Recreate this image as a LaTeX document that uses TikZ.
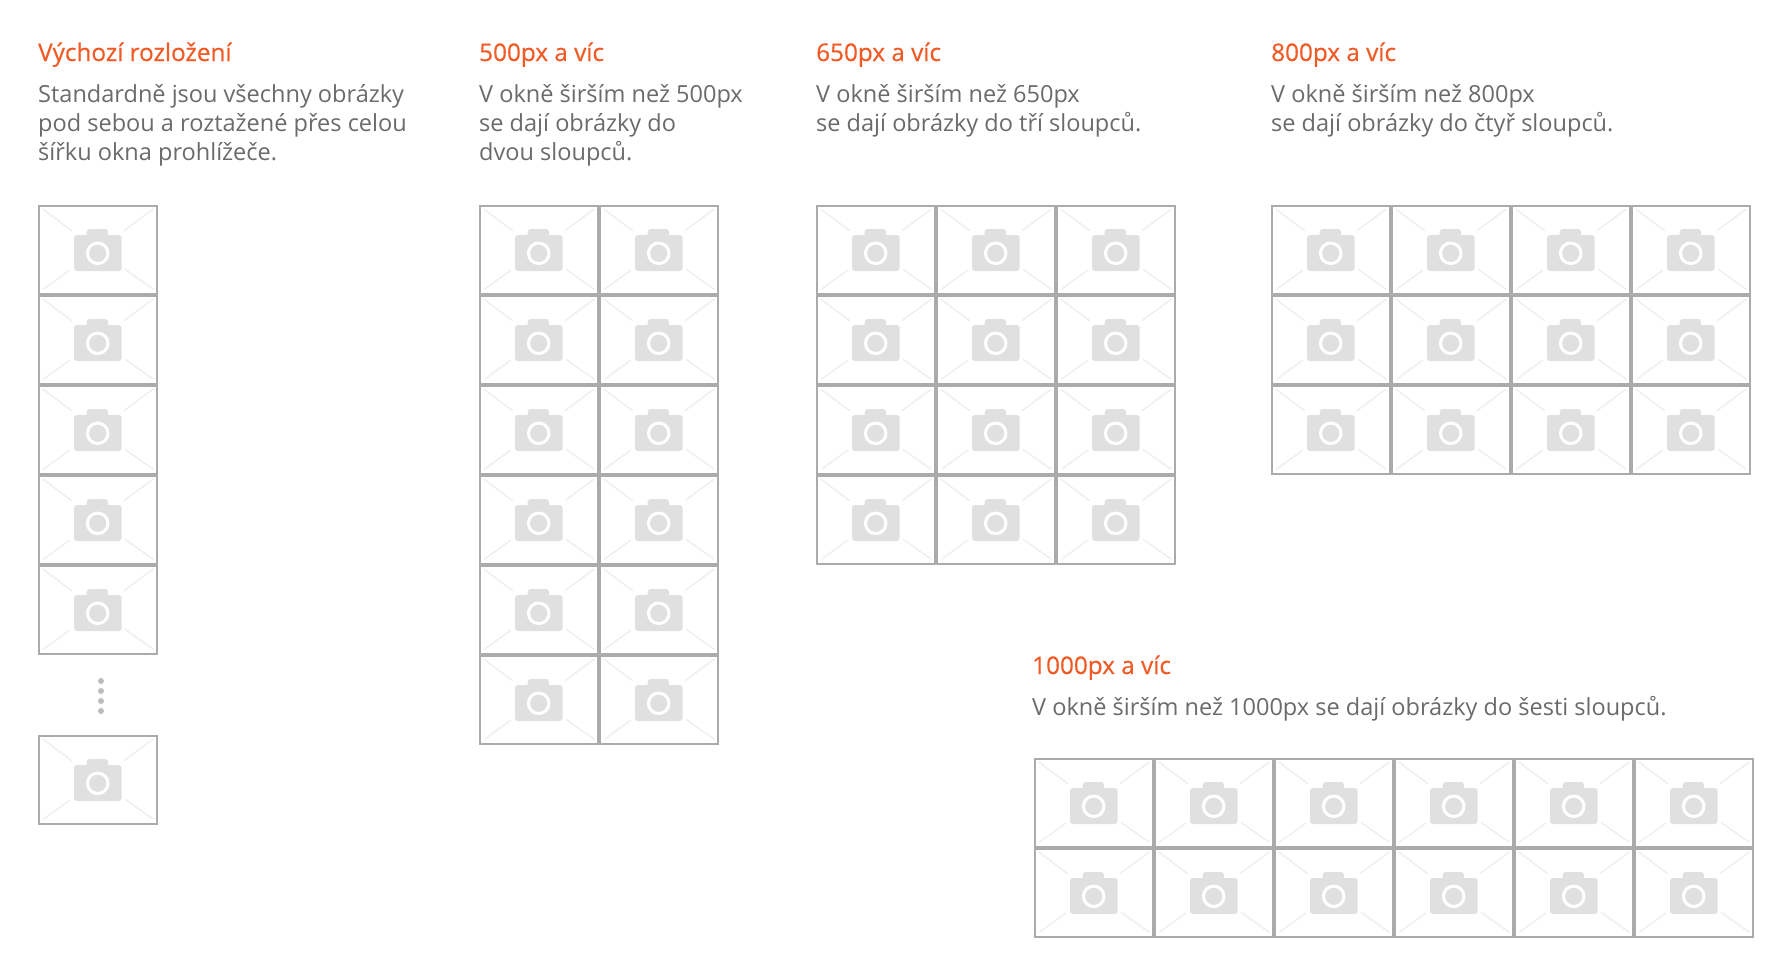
\documentclass[tikz,border=0pt]{standalone}
\usepackage{fontspec}
\setmainfont{Open Sans}
\definecolor{orangetitle}{HTML}{F15A24}
\definecolor{greytext}{HTML}{6B6B6B}
\definecolor{frame}{HTML}{ABABAB}
\definecolor{icon}{HTML}{E0E0E0}
\definecolor{diag}{HTML}{EDEDED}
\definecolor{dotc}{HTML}{BDBDBD}
\newcommand{\titlefont}{\fontsize{24.3}{29}\selectfont\addfontfeature{FakeBold=0.4}}
\newcommand{\bodyfont}{\fontsize{23.53}{29}\selectfont}
\tikzset{
  x=1pt,y=-1pt,
  titletext/.style={anchor=base west,inner sep=0pt,text=orangetitle,font=\titlefont},
  bodytext/.style={anchor=north west,inner sep=0pt,text=greytext,font=\bodyfont,align=left},
  cellframe/.style={draw=frame,line width=2pt,fill=white,minimum width=118pt,minimum height=88pt,inner sep=0pt,anchor=north west},
  diagline/.style={draw=diag,line width=1.2pt},
  camerabody/.style={fill=icon,rounded corners=3pt},
  vdot/.style={circle,fill=dotc,inner sep=0pt,minimum size=6pt},
}
\newcommand{\photocell}[3]{% name, x, y (outer top-left)
  \node[cellframe] (#1) at (#2,#3) {};
  \begin{scope}[shift={(#2,#3)}]
    \draw[diagline] (4.7,4)--(33.7,25.7) (115.3,4)--(86,25.7) (5.3,84.3)--(32,65) (115.3,84.3)--(87,64.3);
    \fill[camerabody] (36,30) rectangle (83.7,66);
    \fill[icon,rounded corners=3pt] (48.7,24) rectangle (70,36);
    \fill[white] (59.7,48.3) circle (11.8);
    \fill[icon] (59.7,48.3) circle (8.6);
  \end{scope}
}
\newcommand{\photogrid}[5]{% prefix, x, y, cols, rows
  \foreach \c in {1,...,#4}{\foreach \r in {1,...,#5}{
    \photocell{#1\c\r}{#2+120*\c-120}{#3+90*\r-90}
  }}
}
\begin{document}
\begin{tikzpicture}
\useasboundingbox (0,0) rectangle (1788,975);
\fill[white] (0,0) rectangle (1788,975);
\node[titletext] (t1) at (38,61) {Výchozí rozložení};
\node[bodytext] (b1) at (38,84.5) {Standardně jsou všechny obrázky\\pod sebou a roztažené přes celou\\šířku okna prohlížeče.};
\node[titletext] (t2) at (479,61) {500px a víc};
\node[bodytext] (b2) at (479,84.5) {V okně širším než 500px\\se dají obrázky do\\dvou sloupců.};
\node[titletext] (t3) at (816,61) {650px a víc};
\node[bodytext] (b3) at (816,84.5) {V okně širším než 650px\\se dají obrázky do tří sloupců.};
\node[titletext] (t4) at (1271,61) {800px a víc};
\node[bodytext] (b4) at (1271,84.5) {V okně širším než 800px\\se dají obrázky do čtyř sloupců.};
\node[titletext] (t5) at (1032,674) {1000px a víc};
\node[bodytext] (b5) at (1032,696) {V okně širším než 1000px se dají obrázky do šesti sloupců.};
\photogrid{a}{38}{205}{1}{5}
\photocell{alast}{38}{735}
\node[vdot] (d1) at (101,681) {};
\node[vdot] (d2) at (101,691) {};
\node[vdot] (d3) at (101,701) {};
\node[vdot] (d4) at (101,711) {};
\photogrid{b}{479}{205}{2}{6}
\photogrid{c}{816}{205}{3}{4}
\photogrid{d}{1271}{205}{4}{3}
\photogrid{e}{1034}{758}{6}{2}
\end{tikzpicture}
\end{document}
